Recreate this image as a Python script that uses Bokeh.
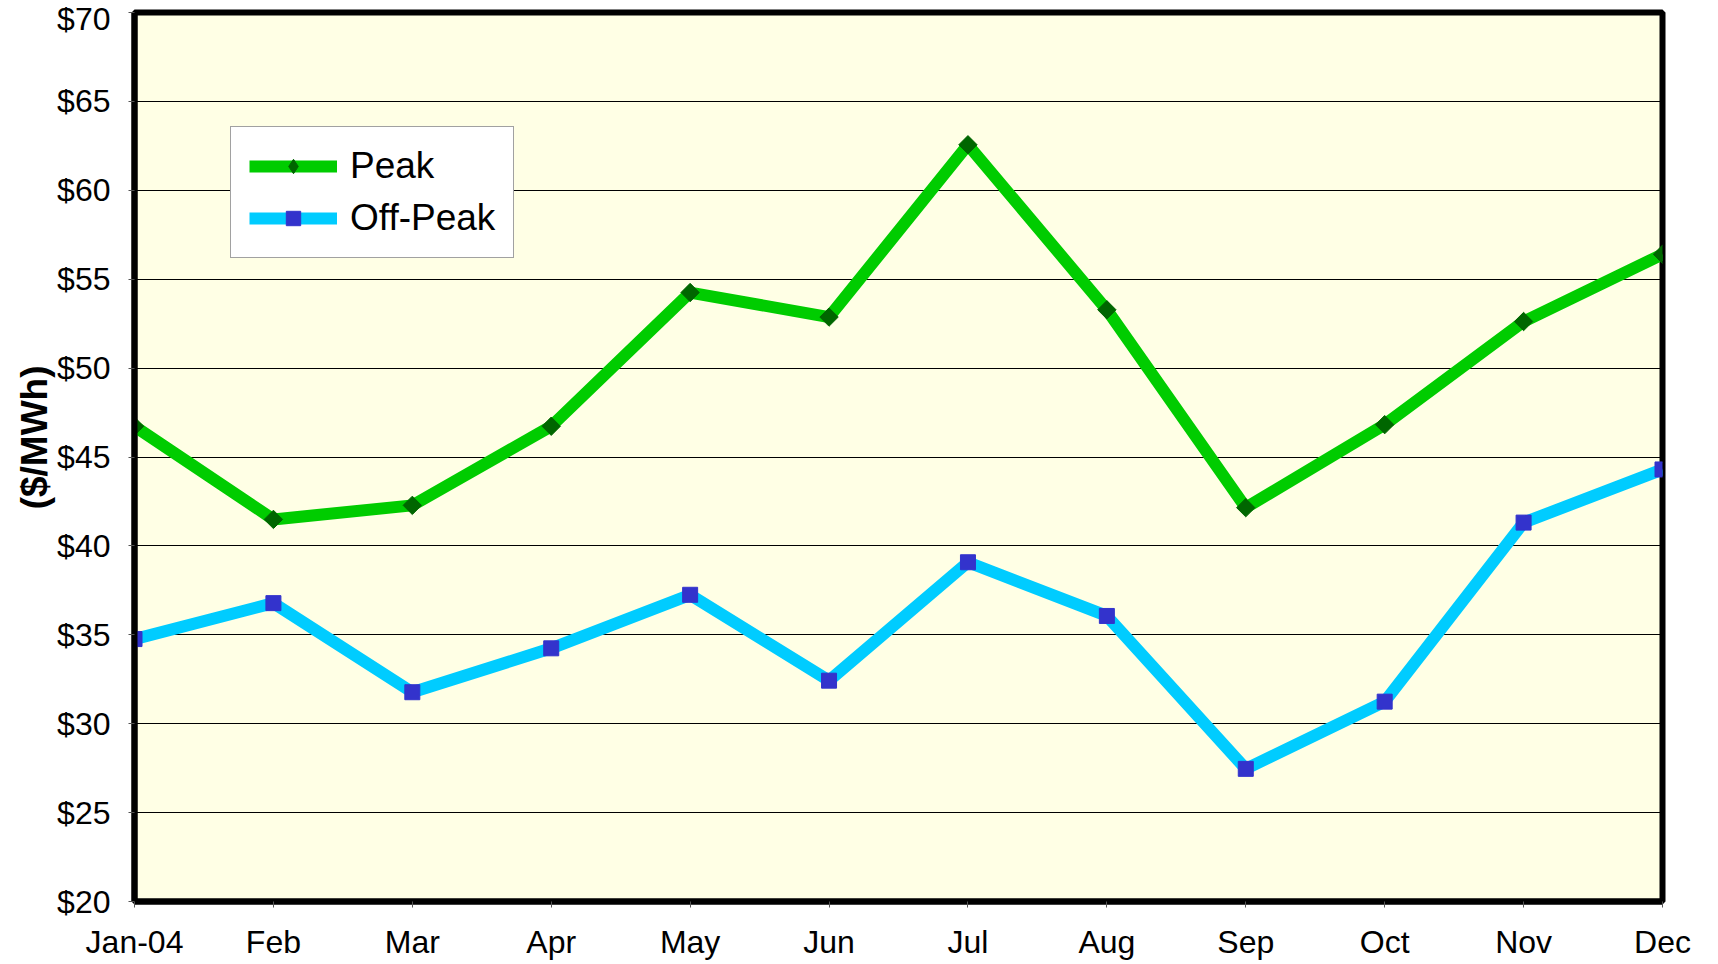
import math
from bokeh.plotting import figure
from bokeh.models import Range1d, FixedTicker, Legend, LegendItem, Title
from bokeh.embed import file_html
from bokeh.resources import INLINE

months = ["Jan-04", "Feb", "Mar", "Apr", "May", "Jun", "Jul", "Aug", "Sep", "Oct", "Nov", "Dec"]
peak = [46.73, 41.49, 42.28, 46.73, 54.25, 52.87, 62.56, 53.28, 42.15, 46.82, 52.62, 56.40]
off_peak = [34.76, 36.78, 31.77, 34.24, 37.25, 32.42, 39.08, 36.06, 27.46, 31.24, 41.31, 44.30]
y_ticks = [20, 25, 30, 35, 40, 45, 50, 55, 60, 65, 70]
y_min, y_max = 20, 70

x = list(range(len(months)))

p = figure(width=1700, height=962, output_backend="svg", toolbar_location=None,
           x_range=Range1d(0, len(months) - 1), y_range=Range1d(y_min, y_max),
           min_border_left=134, min_border_right=38, min_border_top=12, min_border_bottom=59)

p.border_fill_color = "white"
p.background_fill_color = "#FFFFE5"
p.outline_line_color = "black"
p.outline_line_width = 6

FONT = "Liberation Sans"

# axes
p.xaxis.ticker = FixedTicker(ticks=x)
p.xaxis.major_label_overrides = {i: m for i, m in enumerate(months)}
p.yaxis.ticker = FixedTicker(ticks=y_ticks)
p.yaxis.major_label_overrides = {v: f"${v}" for v in y_ticks}
for ax in (p.xaxis[0], p.yaxis[0]):
    ax.major_label_text_font = FONT
    ax.major_label_text_font_size = "32px"
    ax.major_label_text_color = "black"
    ax.axis_line_color = "black"
    ax.axis_line_width = 6
    ax.major_tick_line_color = "#555555"
    ax.major_tick_line_width = 1
    ax.major_tick_in = 0
    ax.major_tick_out = 6
    ax.minor_tick_line_color = None
p.xaxis.major_label_standoff = 16
p.yaxis.major_label_standoff = 18

p.xgrid.grid_line_color = None
p.ygrid.grid_line_color = "black"
p.ygrid.grid_line_width = 1

# y axis title, placed a little above the centre as in the original
ytitle = Title(text="($/MWh)", align="right", offset=353,
               text_font=FONT, text_font_size="37px", text_font_style="bold",
               text_color="black", standoff=0)
p.add_layout(ytitle, "left")

# series
l1 = p.line(x, peak, line_color="#00CC00", line_width=12, line_join="round")
m1 = p.scatter(x, peak, marker="square", angle=math.pi / 4, size=13,
               fill_color="#006600", line_color="#006600", line_join="round")
l2 = p.line(x, off_peak, line_color="#00CCFF", line_width=12, line_join="round")
m2 = p.scatter(x, off_peak, marker="square", size=15, fill_color="#3333CC", line_color="#3333CC")

# legend markers: same data, zero size in the plot (legend sizes them itself)
lg1 = p.scatter(x, peak, marker="diamond", size=0, fill_color="#006600", line_color="#006600")
lg2 = p.scatter(x, off_peak, marker="square", size=0, fill_color="#3333CC", line_color="#3333CC")

legend = Legend(items=[LegendItem(label="Peak", renderers=[l1, lg1]),
                       LegendItem(label="Off-Peak", renderers=[l2, lg2])],
                location=(96, 643))
legend.label_text_font = FONT
legend.label_text_font_size = "37px"
legend.label_text_color = "black"
legend.glyph_width = 88
legend.glyph_height = 36
legend.label_height = 36
legend.spacing = 10
legend.padding = 18
legend.margin = 0
legend.label_standoff = 13
legend.border_line_color = "#444444"
legend.border_line_width = 1
legend.background_fill_color = "white"
legend.background_fill_alpha = 1
p.add_layout(legend, "center")

open("out.html", "w").write(file_html(p, INLINE))
